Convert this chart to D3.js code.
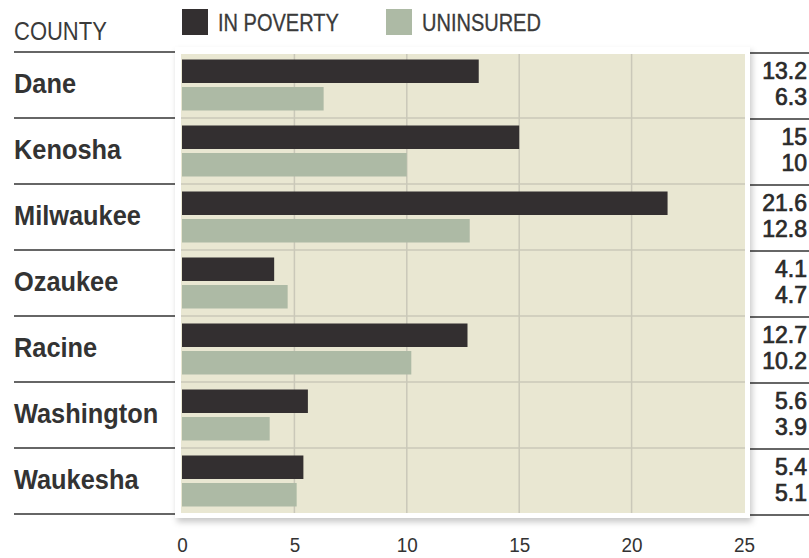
<!DOCTYPE html>
<html><head><meta charset="utf-8">
<script src="https://cdn.jsdelivr.net/npm/d3@7"></script>
<style>body{margin:0;background:#fff}</style>
</head><body><svg id="c" width="809" height="558"></svg>
<script>
const counties = ["Dane","Kenosha","Milwaukee","Ozaukee","Racine","Washington","Waukesha"];
const poverty = [13.2,15,21.6,4.1,12.7,5.6,5.4];
const uninsured = [6.3,10,12.8,4.7,10.2,3.9,5.1];
const xTicks = [0,5,10,15,20,25];
const seriesNames = ["IN POVERTY","UNINSURED"];
const headerLabel = "COUNTY";

const colors = {poverty:"#332f30", uninsured:"#adbaa5", bg:"#e9e7d2", grid:"#cac8b9", rule:"#666"};
const FONT = "'Liberation Sans', Arial, sans-serif";

const svg = d3.select("#c");
const x = d3.scaleLinear().domain([0,25]).range([182,744]);
const y = d3.scaleBand().domain(counties).range([52,514]);

function txt(sel, tx, ty, s, o) {
  return sel.append("text")
    .attr("transform", `translate(${tx},${ty}) scale(${o.sx||0.9},1)`)
    .attr("text-anchor", o.anchor||"start")
    .style("font-family", FONT)
    .style("font-size", o.size+"px")
    .style("font-weight", o.weight||"normal")
    .attr("fill", o.fill||"#333")
    .attr("stroke", o.stroke||"none")
    .attr("stroke-width", o.sw||0)
    .text(s);
}

const defs = svg.append("defs");
const f = defs.append("filter").attr("id","sh").attr("x","-5%").attr("y","-5%").attr("width","112%").attr("height","115%");
f.append("feDropShadow").attr("dx",2).attr("dy",4).attr("stdDeviation",3).attr("flood-color","#000").attr("flood-opacity",0.22);

// header
txt(svg, 14, 40, headerLabel, {size:25, fill:"#3a3a3a", sx:0.88});

// legend
const legColors = [colors.poverty, colors.uninsured];
const legX = [182, 386];
seriesNames.forEach((n,i)=>{
  svg.append("rect").attr("x",legX[i]).attr("y",9).attr("width",26).attr("height",26).attr("fill",legColors[i]);
  txt(svg, legX[i]+36, 31, n, {size:23, fill:"#3a3a3a", sx:0.87, stroke:"#3a3a3a", sw:0.3});
});

// left & right rules
const bounds = counties.map(c=>y(c)).concat([y.range()[1]]);
svg.append("g").selectAll("line").data(bounds).join("line")
  .attr("x1",14).attr("x2",180).attr("y1",d=>d).attr("y2",d=>d)
  .attr("stroke",colors.rule).attr("stroke-width",2);
svg.append("g").selectAll("line").data(bounds).join("line")
  .attr("x1",750).attr("x2",809).attr("y1",d=>d+1).attr("y2",d=>d+1)
  .attr("stroke",colors.rule).attr("stroke-width",2);

// panel
svg.append("rect").attr("x",175).attr("y",47).attr("width",575).attr("height",471)
  .attr("fill","#fff").attr("filter","url(#sh)");
svg.append("rect").attr("x",x(0)-1).attr("y",54).attr("width",x(25)-x(0)+2).attr("height",459)
  .attr("fill",colors.bg);

// grid
svg.append("g").selectAll("line").data(xTicks.slice(1,-1)).join("line")
  .attr("x1",d=>x(d)).attr("x2",d=>x(d)).attr("y1",54).attr("y2",513)
  .attr("stroke",colors.grid).attr("stroke-width",1.5);
svg.append("g").selectAll("line").data(bounds.slice(1,-1)).join("line")
  .attr("x1",x(0)-1).attr("x2",x(25)+1).attr("y1",d=>d).attr("y2",d=>d)
  .attr("stroke",colors.grid).attr("stroke-width",1.5);

// bars
const rows = svg.append("g").selectAll("g").data(counties).join("g");
rows.append("rect").attr("x",x(0)).attr("y",c=>y(c)+7.5).attr("height",23.5)
  .attr("width",(c,i)=>x(poverty[i])-x(0)).attr("fill",colors.poverty);
rows.append("rect").attr("x",x(0)).attr("y",c=>y(c)+35).attr("height",23.5)
  .attr("width",(c,i)=>x(uninsured[i])-x(0)).attr("fill",colors.uninsured);

// county labels & values
counties.forEach((c,i)=>{
  txt(svg, 14, y(c)+41, c, {size:27, weight:"bold", fill:"#333", sx:0.94});
  txt(svg, 807, y(c)+26.5, String(poverty[i]), {size:23, anchor:"end", fill:"#2a2a2a", stroke:"#2a2a2a", sw:0.7, sx:1.0});
  txt(svg, 807, y(c)+52.5, String(uninsured[i]), {size:23, anchor:"end", fill:"#2a2a2a", stroke:"#2a2a2a", sw:0.7, sx:1.0});
});

// axis
const ax = svg.append("g").attr("transform","translate(0,552)")
  .call(d3.axisBottom(x).tickValues(xTicks).tickSize(0).tickPadding(0).tickFormat(d3.format("d")));
ax.select(".domain").remove();
ax.selectAll("text").attr("y",0).attr("dy",0)
  .attr("transform","scale(0.9,1)")
  .style("font-family",FONT).style("font-size","21px").attr("fill","#333");
</script></body></html>
